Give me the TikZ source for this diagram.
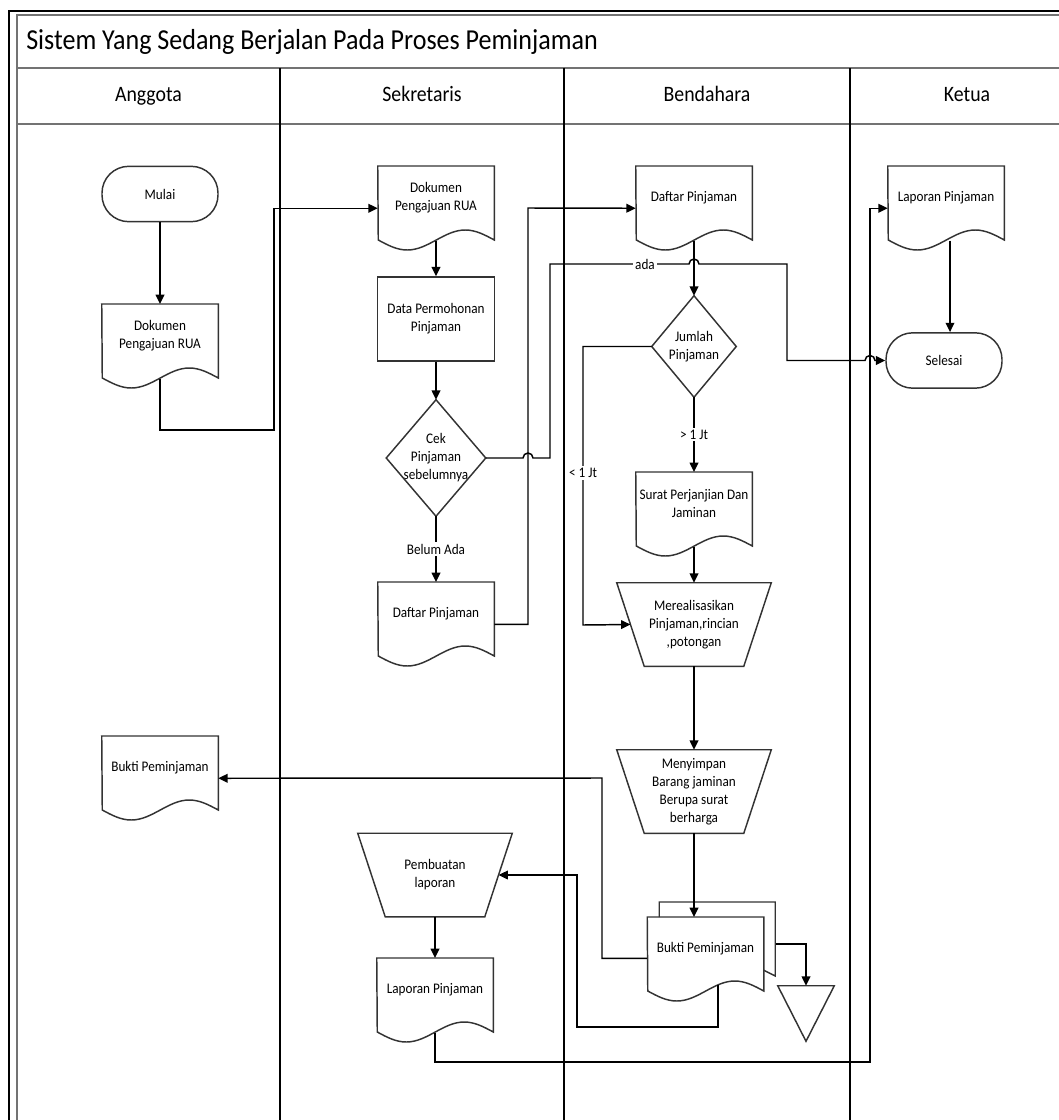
\documentclass[tikz,border=0pt]{standalone}
\usepackage{fontspec}
\setmainfont{Carlito}[FakeStretch=0.9]
\usetikzlibrary{arrows.meta}

\newcommand\txtsz{\fontsize{11}{13.5}\selectfont}
% document symbol: flat top, wavy bottom (node spans the upper 62px, outline 74px + wave)
\newcommand\docshape[1]{\draw[shp] (#1.north west) -- (#1.north east) -- ++(0,74)
  sin ++(-29,-10) cos ++(-29,10) sin ++(-29,10) cos ++(-29,-10) -- cycle;}
% manual operation: wide top, narrow bottom
\newcommand\manop[1]{\draw[shp] (#1.north west) -- (#1.north east)
  -- ([xshift=-20.6pt]#1.south east) -- ([xshift=20.6pt]#1.south west) -- cycle;}
% decision diamond
\newcommand\decision[1]{\draw[shp] (#1.north) -- (#1.east) -- (#1.south) -- (#1.west) -- cycle;}

\begin{document}
\begin{tikzpicture}[x=0.75pt,y=-0.75pt,
  shp/.style={draw=black!80,line width=1.1pt},
  conn/.style={black,line width=1.1pt},
  arr/.style={conn,-{Triangle[length=7pt,width=6.5pt]}},
  base/.style={inner sep=0pt,align=center,font=\txtsz},
  docnode/.style={base,minimum width=87pt,minimum height=46.5pt,anchor=north},
  term/.style={base,shp,rounded corners=20pt,minimum width=87pt,minimum height=41.5pt},
  proc/.style={base,shp,minimum width=87.75pt,minimum height=63pt},
  trap/.style={base,minimum width=115.5pt,minimum height=62.25pt},
  lbl/.style={base,fill=white,inner sep=1.5pt},
  hdr/.style={inner sep=0pt,anchor=base,font=\fontsize{16.5}{20}\selectfont},
  hop/.style={start angle=180,end angle=360,radius=5}
]
\useasboundingbox (0,0) rectangle (1059,1120);
\clip (0,0) rectangle (1059,1120);

% swimlane frame
\draw[black,line width=2pt] (9,11) rectangle (1120,1200);
\draw[black!55,line width=1.6pt] (17,15) rectangle (1110,1190);
\draw[black!55,line width=1.6pt] (17,68) -- (1110,68) (17,124) -- (1110,124);
\draw[black,line width=1.1pt] (280,68) -- (280,1190) (564,68) -- (564,1190) (850,68) -- (850,1190);

\node[inner sep=0pt,anchor=base west,font=\fontsize{21.7}{26}\selectfont] (judul) at (26,50)
  {Sistem Yang Sedang Berjalan Pada Proses Peminjaman};
\node[hdr] (hA) at (148.5,102) {Anggota};
\node[hdr] (hS) at (422,102) {Sekretaris};
\node[hdr] (hB) at (707,102) {Bendahara};
\node[hdr] (hK) at (967,102) {Ketua};

% Anggota
\node[term] (mulai) at (160,194) {Mulai};
\node[docnode] (docA) at (160,304) {Dokumen\\Pengajuan RUA};
\node[docnode] (buktiA) at (160,736) {Bukti Peminjaman};

% Sekretaris
\node[docnode] (docS) at (436,166) {Dokumen\\Pengajuan RUA};
\node[proc] (dataP) at (436,319) {Data Permohonan\\Pinjaman};
\node[base,minimum width=74.25pt,minimum height=87pt] (cek) at (436,458) {Cek\\Pinjaman\\sebelumnya};
\node[docnode] (daftarS) at (436,582) {Daftar Pinjaman};
\node[trap] (buat) at (435,875) {Pembuatan\\laporan};
\node[docnode] (lapS) at (435,958) {Laporan Pinjaman};

% Bendahara
\node[docnode] (daftarB) at (694,166) {Daftar Pinjaman};
\node[base,minimum width=63pt,minimum height=75.75pt] (jumlah) at (694,346.5) {Jumlah\\Pinjaman};
\node[docnode] (surat) at (694,472) {Surat Perjanjian Dan\\Jaminan};
\node[trap] (real) at (694,624.5) {Merealisasikan\\Pinjaman,rincian\\,potongan};
\node[trap] (simpan) at (694,791.5) {Menyimpan\\Barang jaminan\\Berupa surat\\berharga};
\node[docnode] (buktiB) at (705.5,917) {Bukti Peminjaman};
\node[base,minimum width=42pt,minimum height=41.25pt] (arsip) at (806,1013.5) {};

% Ketua
\node[docnode] (lapK) at (946,166) {Laporan Pinjaman};
\node[term] (selesai) at (944,360.5) {Selesai};

% outlines
\docshape{docA}
\docshape{buktiA}
\docshape{docS}
\docshape{daftarS}
\docshape{lapS}
\docshape{daftarB}
\docshape{surat}
\docshape{buktiB}
\docshape{lapK}
\decision{cek}
\decision{jumlah}
\manop{buat}
\manop{real}
\manop{simpan}
% second sheet behind the multi-document
\draw[shp] ([xshift=9pt]buktiB.north west) -- ++(0,-15) -- ++(116,0) -- ++(0,74) -- ++(-12,-6);
% off-page storage
\draw[shp] (arsip.north west) -- (arsip.north east) -- (arsip.south) -- cycle;

% connectors
\draw[arr] (mulai) -- (docA);
\draw[arr] ([yshift=-9pt]docA.south) |- (274,430) |- ([yshift=-8.25pt]docS.west);
\draw[arr] ([yshift=-9pt]docS.south) -- (dataP.north);
\draw[arr] (dataP.south) -- (cek.north);
\draw[arr] (cek.south) -- node[lbl] (lblbelum) {Belum Ada} (daftarS.north);
\draw[arr] ([yshift=-8.25pt]daftarS.east) -| (528,208) -- ([yshift=-8.25pt]daftarB.west);
\draw[arr] (cek.east) -- (523,458) arc[hop] -- (550,458) -- (550,264) -- (689,264) arc[hop]
  -- (787,264) -- (787,360.5) -- (865,360.5) arc[hop] -- (selesai.west);
\node[lbl] (lblada) at (645,264) {ada};
\draw[arr] ([yshift=-9pt]daftarB.south) -- (jumlah.north);
\draw[arr] (jumlah.south) -- node[lbl] (lblbesar) {> 1 Jt} (surat.north);
\draw[arr] (jumlah.west) -| (583,625) -- ([xshift=10.3pt]real.west);
\node[lbl] (lblkecil) at (583,473) {< 1 Jt};
\draw[arr] ([yshift=-9pt]surat.south) -- (real.north);
\draw[arr] (real.south) -- (simpan.north);
\draw[arr] (simpan.south) -- (simpan.south |- buktiB.north);
\draw[arr] ([yshift=-7.5pt]buktiB.west) -| (602,778) -- ([yshift=-8.25pt]buktiA.east);
\draw[arr] ([xshift=9.4pt,yshift=-3.75pt]buktiB.south) |- (577,1027) |- ([xshift=-10.3pt]buat.east);
\draw[arr] ([xshift=9pt,yshift=-20.25pt]buktiB.north east) -| (arsip.north);
\draw[arr] (buat.south) -- (lapS.north);
\draw[arr] ([yshift=-9pt]lapS.south) |- (870,1062) |- ([yshift=-8.25pt]lapK.west);
\draw[arr] ([xshift=3pt,yshift=-9pt]lapK.south) -- ([xshift=3pt]lapK.south |- selesai.north);

\end{tikzpicture}
\end{document}
